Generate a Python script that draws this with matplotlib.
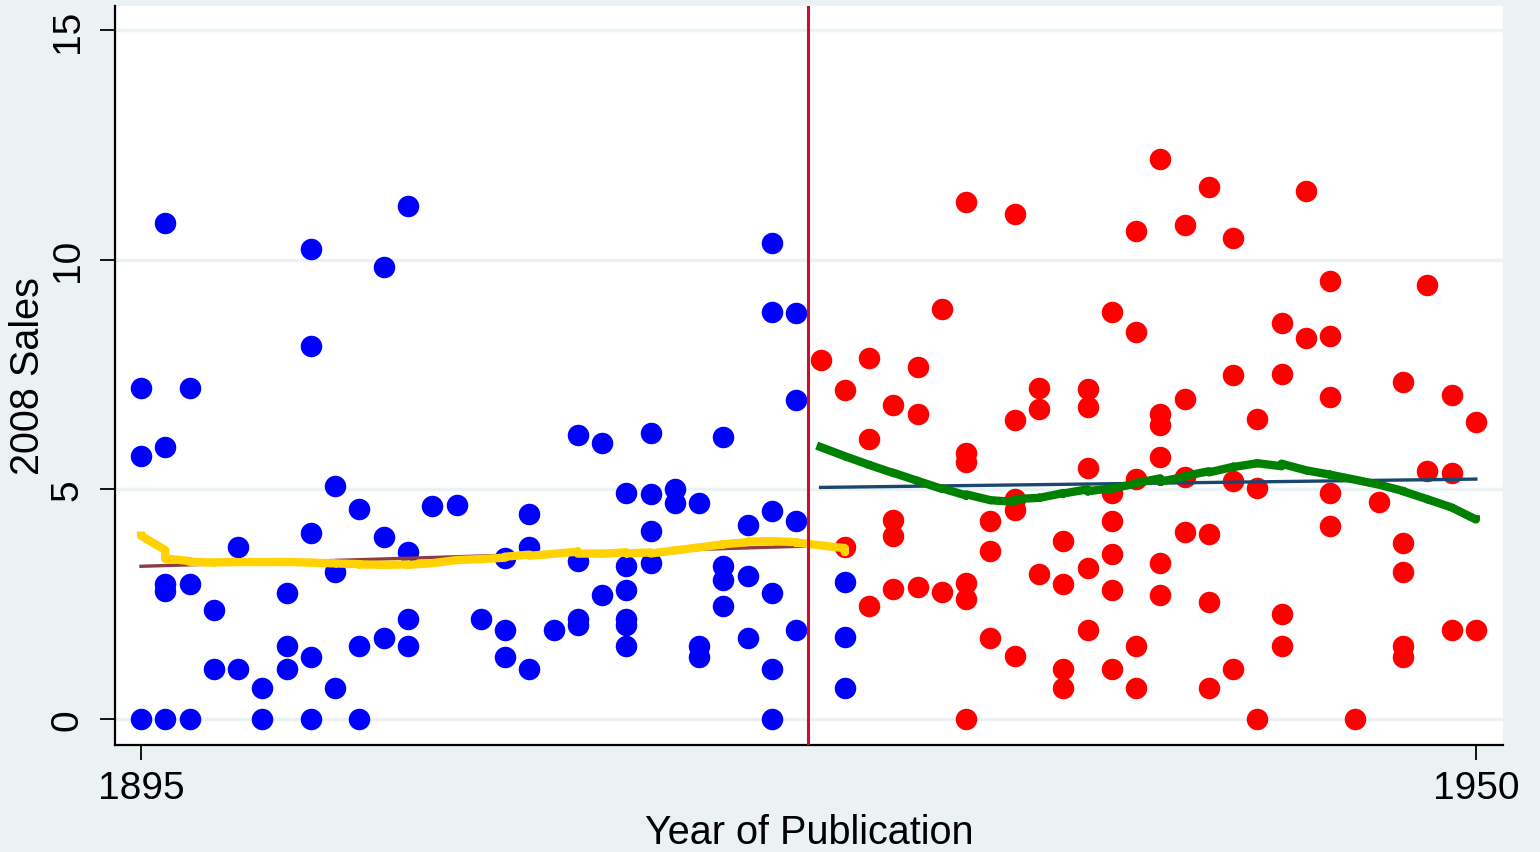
import numpy as np
import matplotlib.pyplot as plt

plt.rcParams['font.family'] = ['Liberation Sans', 'DejaVu Sans']

# points before the cutoff (blue)
blue_x = ([1895] * 3 + [1896] * 5 + [1897] * 3 + [1898] * 2 + [1899] * 2 + [1900] * 2
          + [1901] * 3 + [1902] * 5 + [1903] * 3 + [1904] * 3 + [1905] * 3 + [1906] * 4
          + [1907, 1908, 1909] + [1910] * 3 + [1911] * 3 + [1912] + [1913] * 4 + [1914] * 2
          + [1915] * 6 + [1916] * 4 + [1917] * 2 + [1918] * 3 + [1919] * 4 + [1920] * 3
          + [1921] * 6 + [1922] * 4 + [1924] * 3)
blue_y = [7.2, 5.73, 0,
          10.79, 5.93, 2.93, 2.79, 0,
          7.2, 2.93, 0,
          2.38, 1.08,
          3.74, 1.08,
          0.68, 0,
          2.74, 1.58, 1.08,
          10.24, 8.13, 4.06, 1.36, 0,
          5.07, 3.2, 0.68,
          4.57, 1.6, 0,
          9.83, 3.97, 1.76,
          11.16, 3.63, 2.18, 1.58,
          4.64, 4.65, 2.18,
          3.51, 1.93, 1.36,
          4.47, 3.74, 1.08,
          1.93,
          6.19, 3.43, 2.18, 2.04,
          6.0, 2.7,
          4.93, 3.33, 2.81, 2.18, 2.04, 1.58,
          6.23, 4.89, 4.1, 3.39,
          5.0, 4.7,
          4.7, 1.59, 1.36,
          6.14, 3.34, 3.03, 2.46,
          4.23, 3.12, 1.77,
          10.37, 8.87, 4.53, 2.74, 1.08, 0,
          8.83, 6.95, 4.31, 1.93,
          2.98, 1.78, 0.67]

# points after the cutoff (red)
red_x = ([1923] + [1924] * 2 + [1925] * 3 + [1926] * 4 + [1927] * 3 + [1928] * 2
         + [1929] * 6 + [1930] * 3 + [1931] * 5 + [1932] * 3 + [1933] * 4 + [1934] * 5
         + [1935] * 6 + [1936] * 5 + [1937] * 6 + [1938] * 4 + [1939] * 4 + [1940] * 4
         + [1941] * 3 + [1942] * 4 + [1943] * 2 + [1944] * 5 + [1945, 1946] + [1947] * 5
         + [1948] * 2 + [1949] * 3 + [1950] * 2)
red_y = [7.81,
         7.16, 3.74,
         7.86, 6.1, 2.47,
         6.84, 4.34, 3.98, 2.83,
         7.67, 6.63, 2.87,
         8.93, 2.76,
         11.26, 5.8, 5.59, 2.95, 2.62, 0,
         4.3, 3.65, 1.77,
         10.99, 6.51, 4.78, 4.55, 1.37,
         7.21, 6.74, 3.16,
         3.87, 2.93, 1.08, 0.67,
         7.19, 6.8, 5.47, 3.29, 1.93,
         8.86, 4.92, 4.32, 3.59, 2.81, 1.08,
         10.62, 8.43, 5.22, 1.59, 0.67,
         12.2, 6.65, 6.39, 5.71, 3.4, 2.69,
         10.76, 6.96, 5.27, 4.07,
         11.59, 4.02, 2.55, 0.67,
         10.48, 7.49, 5.18, 1.08,
         6.52, 5.02, 0,
         8.63, 7.52, 2.29, 1.59,
         11.5, 8.3,
         9.54, 8.33, 7.01, 4.92, 4.2,
         0, 4.73,
         7.34, 3.83, 3.2, 1.6, 1.36,
         9.44, 5.39,
         7.06, 5.36, 1.93,
         6.47, 1.93]

cutoff = 1922.5


def lowess(x, y, bwidth=0.8):
    # Stata style running-line lowess with tricube weights
    x = np.asarray(x, float)
    y = np.asarray(y, float)
    order = np.argsort(x, kind='stable')
    x, y = x[order], y[order]
    n = len(x)
    k = int(np.floor((n * bwidth - 0.5) / 2))
    ys = np.empty(n)
    for i in range(n):
        lo, hi = max(0, i - k), min(n - 1, i + k)
        xx, yy = x[lo:hi + 1], y[lo:hi + 1]
        d = 1.0001 * max(x[hi] - x[i], x[i] - x[lo])
        w = (1 - (np.abs(xx - x[i]) / d) ** 3) ** 3
        sw = w.sum()
        mx = (w * xx).sum() / sw
        my = (w * yy).sum() / sw
        sxx = (w * (xx - mx) ** 2).sum()
        b = (w * (xx - mx) * (yy - my)).sum() / sxx if sxx > 0 else 0
        ys[i] = my + b * (x[i] - mx)
    return x, ys


fig = plt.figure(figsize=(15.4, 8.53), dpi=100, facecolor='#EAF2F3')
ax = fig.add_axes([0.0747, 0.1254, 0.9013, 0.8664])
ax.set_facecolor('white')

ax.scatter(blue_x, blue_y, s=240, color='#0000FF', linewidths=0, zorder=3)
ax.scatter(red_x, red_y, s=240, color='#FF0000', linewidths=0, zorder=3)

# linear fits
for xs, ys, col in [(blue_x, blue_y, '#8E3B46'), (red_x, red_y, '#1A476F')]:
    b, a = np.polyfit(xs, ys, 1)
    xl = np.array([min(xs), max(xs)])
    ax.plot(xl, a + b * xl, color=col, lw=2.4, zorder=4)

# lowess smooths
lx, ly = lowess(blue_x, blue_y)
ax.plot(lx, ly, color='#FFD200', lw=6, zorder=5)
lx, ly = lowess(red_x, red_y)
ax.plot(lx, ly, color='#008000', lw=6, zorder=5)

ax.axvline(cutoff, color='#C8102E', lw=2.2, zorder=6)

ax.set_xlim(1893.93, 1951.12)
ax.set_ylim(-0.566, 15.52)
ax.set_xticks([1895, 1950])
ax.set_yticks([0, 5, 10, 15])
ax.grid(axis='y', color='#EAF2F3', lw=2.5, zorder=0)
ax.set_axisbelow(True)

for s in ['top', 'right']:
    ax.spines[s].set_visible(False)
for s in ['left', 'bottom']:
    ax.spines[s].set_linewidth(1.6)

ax.tick_params(axis='both', length=11, width=1.3, labelsize=28)
ax.tick_params(axis='y', pad=10)
ax.tick_params(axis='x', pad=7)
for lab in ax.get_yticklabels():
    lab.set_rotation(90)
    lab.set_va('center')

ax.set_xlabel('Year of Publication', fontsize=28.5, labelpad=5)
ax.set_ylabel('2008 Sales', fontsize=28.5, labelpad=2)

fig.savefig('out.png', dpi=100, facecolor=fig.get_facecolor())
